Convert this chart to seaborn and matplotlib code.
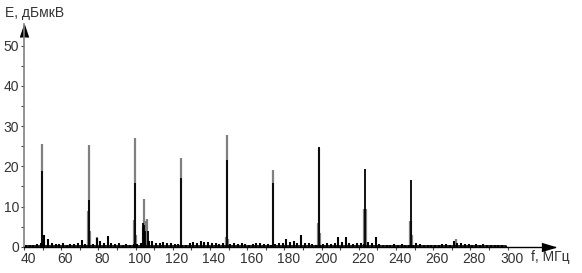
import numpy as np
import pandas as pd
import seaborn as sns
import matplotlib.pyplot as plt
from matplotlib.transforms import ScaledTranslation

sns.set_style("ticks")
plt.rcParams['font.family'] = ['Liberation Sans', 'DejaVu Sans']

# ---- data ----
# main carriers (MHz) and their levels, gray = first trace, black = second trace
peak_freq = [49.8, 74.8, 99.6, 124.4, 149.0, 173.8, 198.6, 223.4, 248.2]
peak_gray = [25.5, 25.3, 27.0, 22.0, 27.9, 19.0, 24.6, 9.5, 6.5]
peak_black = [18.8, 11.6, 15.8, 17.0, 21.5, 15.8, 24.8, 19.4, 16.5]

# extra gray lines (side bins of carriers, small spurs)
gray_freq = [74.3, 75.3, 99.1, 100.1, 103.8, 104.5, 105.5, 106.1, 148.6, 149.5,
             198.1, 199.1, 222.9, 223.9, 247.7, 248.7, 79.5, 272.5]
gray_level = [9.0, 4.0, 6.6, 3.0, 5.0, 11.8, 6.5, 7.0, 2.5, 2.0,
              6.0, 3.5, 9.5, 9.5, 6.5, 3.0, 2.5, 1.8]

# extra black lines (cluster near 105 MHz)
black_freq = [104.0, 104.6, 105.2, 106.8, 108.6]
black_level = [5.9, 5.5, 4.0, 4.0, 1.5]

# black noise floor, every 2 MHz from 41 to 299
noise_freq = list(range(41, 300, 2))
noise_level = [
    0.4, 0.5, 0.4, 0.6, 0.9, 3.0, 2.0, 1.0, 0.7, 0.6,
    0.8, 0.5, 0.7, 0.6, 0.8, 1.7, 0.6, 0.5, 0.7, 2.2,
    1.5, 0.8, 2.7, 0.9, 0.6, 1.0, 0.5, 0.6, 0.4, 0.6,
    0.7, 0.9, 1.0, 1.3, 1.5, 0.8, 1.0, 1.1, 0.8, 1.0,
    0.6, 0.7, 0.4, 0.5, 0.9, 1.2, 1.0, 1.3, 1.1, 1.2,
    1.0, 0.9, 0.7, 0.8, 0.6, 0.7, 0.8, 0.6, 0.9, 0.7,
    0.4, 0.6, 0.8, 1.0, 0.6, 0.7, 0.5, 0.6, 0.8, 0.9,
    1.8, 1.2, 1.5, 1.0, 3.0, 1.0, 0.8, 0.6, 0.5, 0.5,
    0.7, 0.8, 0.7, 1.0, 2.3, 1.2, 2.3, 0.8, 0.6, 0.8,
    0.8, 0.7, 1.2, 0.8, 2.3, 0.6, 0.3, 0.5, 0.3, 0.6,
    0.5, 0.6, 0.4, 0.5, 0.5, 0.8, 0.6, 0.3, 0.5, 0.4,
    0.3, 0.5, 0.6, 0.7, 0.5, 1.5, 1.0, 0.8, 0.7, 0.6,
    0.5, 0.6, 0.5, 0.6, 0.4, 0.5, 0.4, 0.5, 0.3, 0.2,
]

x_ticks = list(range(40, 301, 20))
y_ticks = [0, 10, 20, 30, 40, 50]

GRAY = '#808080'
TXT = '#333333'

gray_df = pd.DataFrame({'f': peak_freq + gray_freq, 'E': peak_gray + gray_level})
black_df = pd.DataFrame({'f': peak_freq + black_freq, 'E': peak_black + black_level})
noise_df = pd.DataFrame({'f': noise_freq, 'E': noise_level})

fig = plt.figure(figsize=(5.82, 2.73), dpi=100)
ax = fig.add_axes([24 / 582, 26.3 / 273, 531 / 582, 222.7 / 273])

ax.vlines(gray_df['f'], 0, gray_df['E'], color=GRAY, lw=1.6)
ax.vlines(noise_df['f'], 0, noise_df['E'], color='black', lw=1.5)
sns.lineplot(data=noise_df, x='f', y=0.25, color='black', lw=1.2, ax=ax)
ax.vlines(black_df['f'], 0, black_df['E'], color='black', lw=1.3)

ax.set_xlim(40, 325.5)
ax.set_ylim(0, 55.4)
ax.set_xlabel('')
ax.set_ylabel('')

sns.despine(ax=ax)
ax.spines['left'].set_color(GRAY)
ax.spines['left'].set_linewidth(1.2)
ax.spines['bottom'].set_color('black')
ax.spines['bottom'].set_linewidth(1.0)

ax.set_xticks(x_ticks)
ax.set_xticks(list(range(50, 301, 20)), minor=True)
ax.set_yticks(y_ticks)
ax.set_yticks([5, 15, 25, 35, 45], minor=True)
ax.tick_params(axis='both', which='both', length=2.5, width=0.8, color='#444444',
               labelsize=10, labelcolor=TXT, pad=1)

offset = ScaledTranslation(4 / 100, 0, fig.dpi_scale_trans)
for lab in ax.get_xticklabels():
    lab.set_transform(lab.get_transform() + offset)

# axis arrows
ax.plot([322.0], [0], marker=[(-1, -0.6), (1, 0), (-1, 0.6)], markersize=9.5,
        color='black', clip_on=False)
ax.plot([40], [53.7], marker=[(-0.67, -1), (0, 1), (0.67, -1)], markersize=8.6,
        color='black', clip_on=False)

fig.text(5 / 582, 1 - 13 / 273, 'E, дБмкВ', fontsize=10, color=TXT, va='center', ha='left')
fig.text(531 / 582, 1 - 257 / 273, 'f, МГц', fontsize=10, color=TXT, va='center', ha='left')

fig.savefig('out.png', dpi=100)
